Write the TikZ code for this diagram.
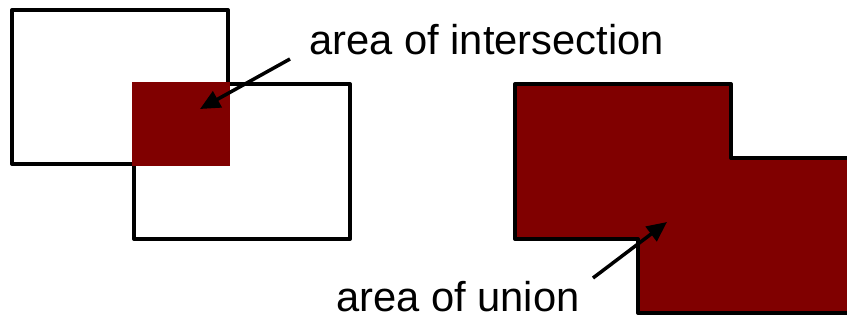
\documentclass[tikz,border=0pt]{standalone}
\usepackage{fontspec}
\setmainfont{Liberation Sans}
\usetikzlibrary{arrows.meta}
\definecolor{AreaRed}{HTML}{800000}

\begin{document}
\begin{tikzpicture}[
  x=1pt,
  y=-1pt,
  outline/.style={line width=4pt, line join=round, draw=black},
  pointer/.style={-{Triangle[length=20pt,width=18pt]}, line width=3.5pt},
  caption/.style={anchor=base west, inner sep=0pt, font=\fontsize{41.7}{48}\selectfont}
]
\useasboundingbox (0,0) rectangle (847,320);
\clip (0,0) rectangle (847,320);
% two overlapping boxes and their intersection
\draw[outline] (12,10) rectangle (228,164);
\draw[outline] (134,84) rectangle (350,239);
\fill[AreaRed] (132,82) rectangle (230,166);
% union of the two boxes
\filldraw[outline, fill=AreaRed] (515,84) -- (731,84) -- (731,158) -- (860,158)
  -- (860,313) -- (638,313) -- (638,239) -- (515,239) -- cycle;
% labels
\node[caption] (isectlabel) at (309,55) {area of intersection};
\node[caption] (unionlabel) at (336,312) {area of union};
\coordinate (isecttail) at (290,59);
\coordinate (isecttip) at (200,109);
\coordinate (uniontail) at (593,278);
\coordinate (uniontip) at (667,222);
\draw[pointer] (isecttail) -- (isecttip);
\draw[pointer] (uniontail) -- (uniontip);
\end{tikzpicture}
\end{document}
